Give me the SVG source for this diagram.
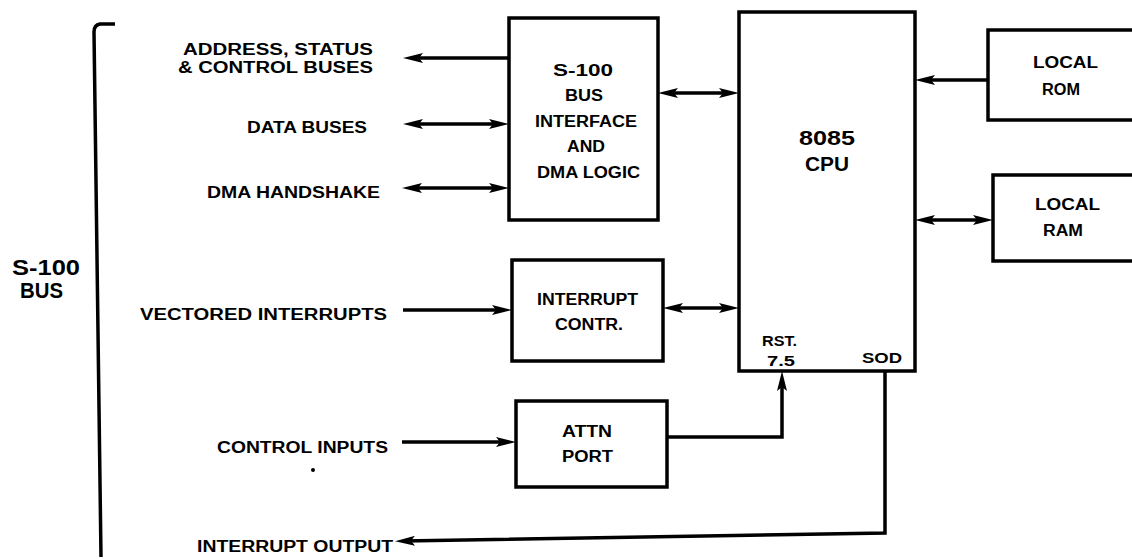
<svg xmlns="http://www.w3.org/2000/svg" width="1132" height="559" viewBox="0 0 1132 559">
<style>
  .bg { fill: #ffffff; }
  .box { fill: #ffffff; stroke: #000000; stroke-width: 3.5; }
  .ln { fill: none; stroke: #000000; stroke-width: 3.5; stroke-linecap: butt; stroke-linejoin: miter; }
  .t { font-family: "Liberation Sans", Arial, "DejaVu Sans", sans-serif; font-weight: bold; font-size: 16px; fill: #000000; }
  .s { font-size: 14px; }
  .big { font-size: 20px; }
  .bus { font-size: 22px; }
</style>
<defs>
  <marker id="arr" viewBox="0 0 20 10" refX="12" refY="5" markerWidth="20" markerHeight="10" markerUnits="userSpaceOnUse" orient="auto-start-reverse">
    <path d="M0,0 L20,5 L0,10 L4,5 z" fill="#000000"/>
  </marker>
</defs>
<rect class="bg" x="0" y="0" width="1132" height="559"/>

<g id="s100-bus">
  <path class="ln" d="M115,24 L100,24 Q94,25 94,32 L101,557"/>
  <text class="t bus" x="12" y="275" textLength="68" lengthAdjust="spacingAndGlyphs">S-100</text>
  <text class="t bus" x="20" y="298" textLength="43" lengthAdjust="spacingAndGlyphs">BUS</text>
</g>

<g id="bus-labels">
  <text class="t" x="183" y="55" textLength="190" lengthAdjust="spacingAndGlyphs">ADDRESS, STATUS</text>
  <text class="t" x="178" y="73" textLength="195" lengthAdjust="spacingAndGlyphs">&amp; CONTROL BUSES</text>
  <text class="t" x="247" y="133" textLength="120" lengthAdjust="spacingAndGlyphs">DATA BUSES</text>
  <text class="t" x="207" y="198" textLength="173" lengthAdjust="spacingAndGlyphs">DMA HANDSHAKE</text>
  <text class="t" x="140" y="320" textLength="247" lengthAdjust="spacingAndGlyphs">VECTORED INTERRUPTS</text>
  <text class="t" x="217" y="453" textLength="171" lengthAdjust="spacingAndGlyphs">CONTROL INPUTS</text>
  <circle cx="313" cy="470" r="2" fill="#000000"/>
  <text class="t" x="197" y="552" textLength="196" lengthAdjust="spacingAndGlyphs">INTERRUPT OUTPUT</text>
</g>

<g id="bus-interface">
  <rect class="box" x="509" y="18" width="149" height="202"/>
  <text class="t" x="553" y="76" textLength="60" lengthAdjust="spacingAndGlyphs">S-100</text>
  <text class="t" x="565" y="101" textLength="38" lengthAdjust="spacingAndGlyphs">BUS</text>
  <text class="t" x="535" y="127" textLength="102" lengthAdjust="spacingAndGlyphs">INTERFACE</text>
  <text class="t" x="567" y="152" textLength="38" lengthAdjust="spacingAndGlyphs">AND</text>
  <text class="t" x="537" y="178" textLength="103" lengthAdjust="spacingAndGlyphs">DMA LOGIC</text>
</g>

<g id="interrupt-contr">
  <rect class="box" x="512" y="260" width="151" height="101"/>
  <text class="t" x="537" y="305" textLength="101" lengthAdjust="spacingAndGlyphs">INTERRUPT</text>
  <text class="t" x="555" y="330" textLength="68" lengthAdjust="spacingAndGlyphs">CONTR.</text>
</g>

<g id="attn-port">
  <rect class="box" x="516" y="401" width="151" height="86"/>
  <text class="t" x="562" y="437" textLength="50" lengthAdjust="spacingAndGlyphs">ATTN</text>
  <text class="t" x="562" y="462" textLength="51" lengthAdjust="spacingAndGlyphs">PORT</text>
</g>

<g id="cpu">
  <rect class="box" x="739" y="12" width="176" height="359"/>
  <text class="t big" x="799" y="145" textLength="56" lengthAdjust="spacingAndGlyphs">8085</text>
  <text class="t big" x="805" y="171" textLength="44" lengthAdjust="spacingAndGlyphs">CPU</text>
  <text class="t s" x="762" y="346" textLength="35" lengthAdjust="spacingAndGlyphs">RST.</text>
  <text class="t s" x="767" y="366" textLength="28" lengthAdjust="spacingAndGlyphs">7.5</text>
  <text class="t s" x="862" y="363" textLength="40" lengthAdjust="spacingAndGlyphs">SOD</text>
</g>

<g id="local-rom">
  <rect class="box" x="988" y="30" width="170" height="90"/>
  <text class="t" x="1033" y="68" textLength="65" lengthAdjust="spacingAndGlyphs">LOCAL</text>
  <text class="t" x="1042" y="95" textLength="38" lengthAdjust="spacingAndGlyphs">ROM</text>
</g>

<g id="local-ram">
  <rect class="box" x="993" y="175" width="170" height="86"/>
  <text class="t" x="1035" y="210" textLength="65" lengthAdjust="spacingAndGlyphs">LOCAL</text>
  <text class="t" x="1043" y="236" textLength="40" lengthAdjust="spacingAndGlyphs">RAM</text>
</g>

<g id="connectors">
  <line class="ln" x1="411" y1="58" x2="509" y2="58" marker-start="url(#arr)"/>
  <line class="ln" x1="411" y1="124" x2="501" y2="124" marker-start="url(#arr)" marker-end="url(#arr)"/>
  <line class="ln" x1="410" y1="188" x2="501" y2="188" marker-start="url(#arr)" marker-end="url(#arr)"/>
  <line class="ln" x1="666" y1="93" x2="731" y2="93" marker-start="url(#arr)" marker-end="url(#arr)"/>
  <line class="ln" x1="988" y1="80" x2="923" y2="80" marker-end="url(#arr)"/>
  <line class="ln" x1="923" y1="220" x2="985" y2="220" marker-start="url(#arr)" marker-end="url(#arr)"/>
  <line class="ln" x1="403" y1="310" x2="504" y2="310" marker-end="url(#arr)"/>
  <line class="ln" x1="671" y1="308" x2="731" y2="308" marker-start="url(#arr)" marker-end="url(#arr)"/>
  <line class="ln" x1="402" y1="442" x2="508" y2="442" marker-end="url(#arr)"/>
  <polyline class="ln" points="667,437 782,437 782,379" marker-end="url(#arr)"/>
  <polyline class="ln" points="885,371 885,533 403,541" marker-end="url(#arr)"/>
</g>
</svg>
